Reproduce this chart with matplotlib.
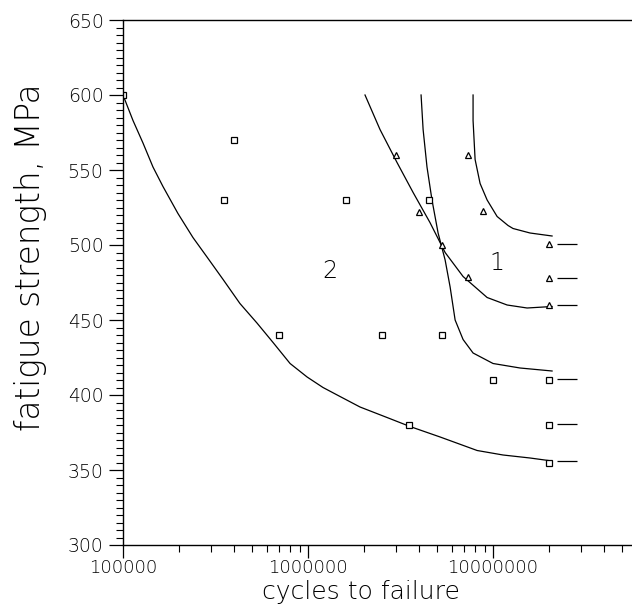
import matplotlib
matplotlib.use('Agg')

font = {'family': 'DejaVu Sans',
        'weight': 'light',
        'size': 13.5}
matplotlib.rc('font', **font)

import matplotlib.pyplot as plt
import numpy as np
from matplotlib.ticker import FixedLocator, LogLocator, MultipleLocator, NullFormatter

# test points, squares (series 2)
sq_cycles = [1e5, 4e5, 3.5e5, 1.6e6, 4.5e6, 7e5, 2.5e6, 5.3e6, 1e7, 3.5e6, 2e7, 2e7, 2e7]
sq_stress = [600, 570, 530, 530, 530, 440, 440, 440, 410, 380, 410, 380, 355]

# test points, triangles (series 1)
tri_cycles = [3e6, 7.3e6, 4e6, 8.8e6, 5.3e6, 7.3e6, 2e7, 2e7, 2e7]
tri_stress = [560, 560, 522, 523, 500, 479, 501, 478, 460]

# run-outs (no failure at 2e7 cycles)
runout_cycles = [2e7, 2e7, 2e7, 2e7, 2e7, 2e7]
runout_stress = [501, 478, 460, 411, 381, 356]

# fitted curves, read as log10(cycles) / stress
curve2_logn = [5.0, 5.054, 5.108, 5.162, 5.216, 5.297, 5.378, 5.454, 5.541, 5.632,
               5.724, 5.811, 5.903, 5.995, 6.081, 6.173, 6.281, 6.427, 6.551, 6.714,
               6.914, 7.054, 7.2, 7.319]
curve2_s = [600, 583, 568, 552, 539, 521, 505, 492, 477, 461,
            448, 435, 421, 412, 405, 399, 392, 385, 379, 372,
            363, 360, 358, 356]

curve_a_logn = [6.308, 6.389, 6.481, 6.568, 6.659, 6.741, 6.838, 6.968, 7.076, 7.184, 7.319]
curve_a_s = [600, 577, 555, 535, 515, 495, 479, 465, 460, 458, 459]

curve_b_logn = [6.611, 6.622, 6.643, 6.670, 6.703, 6.741, 6.768, 6.795, 6.838, 6.892,
                7.0, 7.146, 7.319]
curve_b_s = [600, 577, 552, 530, 508, 490, 472, 450, 437, 428, 421, 418, 416]

curve_c_logn = [6.892, 6.892, 6.903, 6.930, 6.968, 7.022, 7.081, 7.108, 7.2, 7.319]
curve_c_s = [600, 583, 557, 541, 530, 519, 513, 511, 508, 506]

region_labels = ['2', '1']
region_cycles = [1.31e6, 1.05e7]
region_stress = [483, 488]


def main():
    fig = plt.figure()
    fig.set_size_inches(6.32, 6.06, forward=True)
    ax = fig.add_axes([123 / 632, 1 - 545 / 606, 509 / 632, 525 / 606])

    lw = 0.9
    for logn, s in [(curve2_logn, curve2_s), (curve_a_logn, curve_a_s),
                    (curve_b_logn, curve_b_s), (curve_c_logn, curve_c_s)]:
        ax.plot(np.power(10.0, logn), s, color='black', lw=lw)

    ax.plot(sq_cycles, sq_stress, linestyle='none', marker='s', markersize=4,
            markerfacecolor='white', markeredgecolor='black', markeredgewidth=0.9)
    ax.plot(tri_cycles, tri_stress, linestyle='none', marker='^', markersize=4.5,
            markerfacecolor='white', markeredgecolor='black', markeredgewidth=0.9)

    rc = np.array(runout_cycles)
    ax.hlines(runout_stress, rc * 1.11, rc * 1.42, color='black', lw=lw)

    for lab, n, s in zip(region_labels, region_cycles, region_stress):
        ax.text(n, s, lab, fontsize=17, ha='center', va='center')

    ax.set_xscale('log')
    ax.set_xlim(1e5, 10 ** 7.751)
    ax.set_ylim(300, 650)

    ax.xaxis.set_major_locator(FixedLocator([1e5, 1e6, 1e7]))
    ax.set_xticklabels(['100000', '1000000', '10000000'])
    ax.xaxis.set_minor_locator(LogLocator(base=10, subs=np.arange(2, 10)))
    ax.xaxis.set_minor_formatter(NullFormatter())
    ax.yaxis.set_major_locator(MultipleLocator(50))
    ax.yaxis.set_minor_locator(MultipleLocator(5))

    ax.tick_params(which='major', direction='out', length=10, width=0.9)
    ax.tick_params(which='minor', direction='out', length=5, width=0.8)
    ax.tick_params(axis='y', which='major', pad=4)
    ax.tick_params(axis='x', which='major', length=9, pad=1, labelsize=13)
    ax.spines['right'].set_visible(False)
    for sp in ['left', 'bottom', 'top']:
        ax.spines[sp].set_linewidth(1.0)

    fig.text(31 / 632, 1 - 257 / 606, 'fatigue strength, MPa', rotation=90,
             ha='center', va='center', fontsize=23.5)
    fig.text(361 / 632, 1 - 599 / 606, 'cycles to failure',
             ha='center', va='baseline', fontsize=18)

    plt.savefig('out.png', dpi=100)


if __name__ == '__main__':
    main()
